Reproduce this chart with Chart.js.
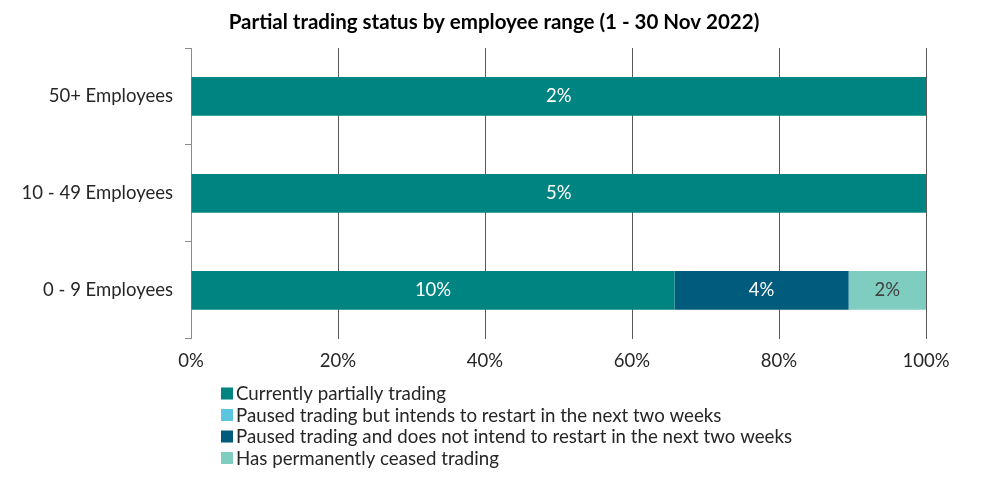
<!DOCTYPE html>
<html>
<head>
<meta charset="utf-8">
<script src="https://cdn.jsdelivr.net/npm/chart.js@4"></script>
<style>
  html, body { margin: 0; padding: 0; background: #fff; }
  #wrap { width: 988px; height: 481px; }
</style>
</head>
<body>
<div id="wrap"><canvas id="graphic-status"></canvas></div>
<script>
const categories = ['50+ Employees', '10 - 49 Employees', '0 - 9 Employees'];
const seriesNames = [
    'Currently partially trading',
    'Paused trading but intends to restart in the next two weeks',
    'Paused trading and does not intend to restart in the next two weeks',
    'Has permanently ceased trading'
];
// raw percentages of businesses (labels), bars are drawn as share of the row
const partiallyTrading = [2.0, 5.0, 10.0];
const pausedRestart = [0, 0, 0];
const pausedNoRestart = [0, 0, 3.6];
const ceasedTrading = [0, 0, 1.6];
const xTicks = [0, 20, 40, 60, 80, 100];
const titleText = 'Partial trading status by employee range (1 - 30 Nov 2022)';

const colors = ['#008481', '#5BC5E0', '#005B7D', '#7FCDC0'];
const labelColors = ['#ffffff', '#ffffff', '#ffffff', '#404040'];
const font = 'Lato';

const rawSeries = [partiallyTrading, pausedRestart, pausedNoRestart, ceasedTrading];
const totals = categories.map((c, i) => rawSeries.reduce((s, arr) => s + arr[i], 0));

const datasets = rawSeries.map((arr, k) => ({
    label: seriesNames[k],
    data: arr.map((v, i) => v / totals[i] * 100),
    raw: arr,
    backgroundColor: colors[k],
    borderWidth: 0,
    categoryPercentage: 1,
    barPercentage: 0.4
}));

const barLabels = {
    id: 'barLabels',
    afterDatasetsDraw(chart) {
        const ctx = chart.ctx;
        ctx.save();
        ctx.font = '18.5px ' + font;
        ctx.textAlign = 'center';
        ctx.textBaseline = 'middle';
        chart.data.datasets.forEach((ds, k) => {
            chart.getDatasetMeta(k).data.forEach((bar, i) => {
                const v = ds.raw[i];
                if (!v) return;
                ctx.fillStyle = labelColors[k];
                ctx.fillText(Math.round(v) + '%', (bar.x + bar.base) / 2, bar.y);
            });
        });
        ctx.restore();
    }
};

// title centred on the whole picture, legend as a plain list under the axis
const decorations = {
    id: 'decorations',
    afterDraw(chart) {
        const ctx = chart.ctx;
        ctx.save();
        ctx.font = 'bold 20.5px ' + font;
        ctx.textAlign = 'center';
        ctx.textBaseline = 'middle';
        ctx.fillStyle = '#000';
        ctx.fillText(titleText, chart.width / 2, 22);

        const x = chart.chartArea.left + 30;
        ctx.font = '18.7px ' + font;
        ctx.textAlign = 'left';
        chart.data.datasets.forEach((ds, k) => {
            const y = 393 + k * 21.5;
            ctx.fillStyle = ds.backgroundColor;
            ctx.fillRect(x, y - 5.5, 12, 12);
            ctx.fillStyle = '#262626';
            ctx.fillText(ds.label, x + 15, y + 1);
        });
        ctx.restore();
    }
};

const config = {
    type: 'bar',
    data: {
        labels: categories,
        datasets: datasets
    },
    options: {
        indexAxis: 'y',
        responsive: true,
        maintainAspectRatio: false,
        animation: false,
        layout: {
            padding: { left: 0, right: 62, top: 48, bottom: 98 }
        },
        plugins: {
            legend: { display: false },
            tooltip: { enabled: false },
            title: { display: false }
        },
        scales: {
            x: {
                stacked: true,
                min: 0,
                max: 100,
                afterBuildTicks: scale => { scale.ticks = xTicks.map(v => ({ value: v })); },
                ticks: {
                    callback: v => v + '%',
                    color: '#262626',
                    font: { family: font, size: 18.5 },
                    padding: 11
                },
                grid: { color: '#5a5a5a', drawTicks: false },
                border: { display: false }
            },
            y: {
                stacked: true,
                offset: true,
                afterFit: scale => { scale.width = 191; },
                ticks: {
                    color: '#262626',
                    font: { family: font, size: 18.5 },
                    padding: 12
                },
                grid: {
                    offset: true,
                    drawOnChartArea: false,
                    drawTicks: true,
                    tickLength: 6,
                    color: '#8c8c8c'
                },
                border: { display: true, color: '#8c8c8c' }
            }
        }
    },
    plugins: [barLabels, decorations]
};

new Chart(document.getElementById('graphic-status'), config);
</script>
</body>
</html>
